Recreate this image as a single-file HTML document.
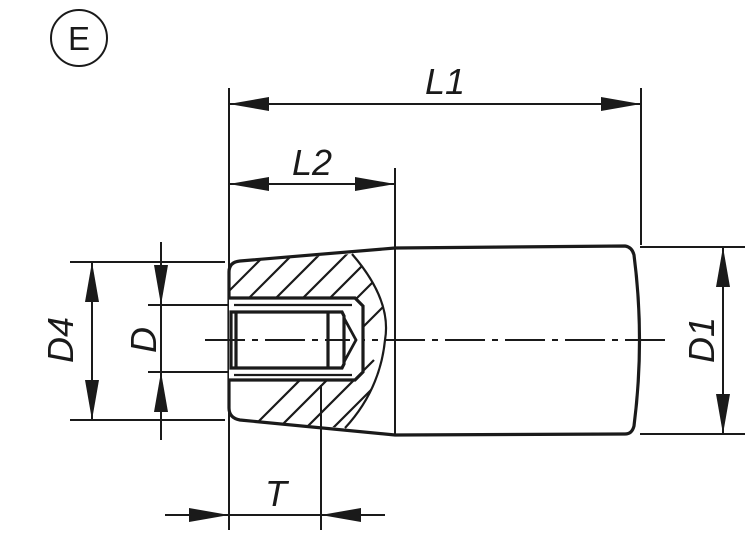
<!DOCTYPE html>
<html><head><style>body{margin:0;background:#fff}svg{display:block}</style></head><body>
<svg width="750" height="537" viewBox="0 0 750 537" xmlns="http://www.w3.org/2000/svg" font-family="Liberation Sans, sans-serif">
<defs>
<clipPath id="hc"><path d="M229,272 Q229,262 240,261 L352,254 Q392,300 385,340 Q380,390 345,428 L240,420 Q229,418 229,408 Z"/></clipPath>
</defs>
<g fill="none" stroke="#1a1a1a">
<circle cx="79" cy="38" r="28" stroke-width="2"/>
<g stroke-width="2">
<line x1="229" y1="88" x2="229" y2="530"/>
<line x1="641" y1="88" x2="641" y2="245"/>
<line x1="395" y1="168" x2="395" y2="248"/>
<line x1="321" y1="385" x2="321" y2="530"/>
<line x1="70" y1="262" x2="225" y2="262"/>
<line x1="70" y1="420" x2="225" y2="420"/>
<line x1="148" y1="305" x2="232" y2="305"/>
<line x1="148" y1="372" x2="232" y2="372"/>
<line x1="640" y1="247" x2="745" y2="247"/>
<line x1="640" y1="434" x2="745" y2="434"/>
<line x1="229" y1="104" x2="641" y2="104"/>
<line x1="229" y1="184" x2="395" y2="184"/>
<line x1="92" y1="262" x2="92" y2="420"/>
<line x1="161" y1="242" x2="161" y2="440"/>
<line x1="723" y1="247" x2="723" y2="434"/>
<line x1="165" y1="515" x2="385" y2="515"/>
</g>
<path d="M205,340 H665" stroke-width="2" stroke-dasharray="40,7,6,7"/>
<g clip-path="url(#hc)" stroke-width="2.2">
<path d="M200,320 L300,220 M227,320 L327,220 M254,320 L354,220 M281,320 L381,220 M308,320 L408,220 M335,320 L435,220 M350,340 L450,240 M200,480 L320,360 M227,480 L347,360 M254,480 L374,360 M281,480 L401,360 M308,480 L428,360 M335,470 L445,360"/>
</g>
<path d="M240,261 L395,248 L625,246 Q632,247 634,255 Q645,340 634,426 Q632,434 625,434 L395,435 L240,420 Q229,418 229,408 L229,272 Q229,262 240,261 Z" stroke-width="3.2"/>
<line x1="395" y1="248" x2="395" y2="435" stroke-width="2"/>
<path d="M352,254 Q392,300 385,340 Q380,390 345,428" stroke-width="2.2"/>
<path d="M229,298 H355 L363,306 V372 L355,380 H229" fill="#fff" stroke-width="3.2"/>
<path d="M231,312 H342 L344,316 V364 L342,368 H231 Z M236,312 V368 M328,312 V368" fill="#fff" stroke-width="3.2"/>
<path d="M344,318 L356,340 L344,362" stroke-width="2.8"/>
<path d="M234,305 H352 M234,375 H352" stroke-width="2.2"/>
<path d="M205,340 H350" stroke-width="2" stroke-dasharray="40,7,6,7"/>
</g>
<g fill="#1a1a1a">
<path d="M229,104 l40,-7 v14z"/><path d="M641,104 l-40,-7 v14z"/>
<path d="M229,184 l40,-7 v14z"/><path d="M395,184 l-40,-7 v14z"/>
<path d="M92,262 l-7,40 h14z"/><path d="M92,420 l-7,-40 h14z"/>
<path d="M161,305 l-7,-40 h14z"/><path d="M161,372 l-7,40 h14z"/>
<path d="M723,247 l-7,40 h14z"/><path d="M723,434 l-7,-40 h14z"/>
<path d="M229,515 l-40,-7 v14z"/><path d="M321,515 l40,-7 v14z"/>
</g>
<g fill="#1a1a1a" font-size="36" font-style="italic">
<text x="79" y="50" font-size="33" font-style="normal" text-anchor="middle">E</text>
<text x="445" y="94" text-anchor="middle">L1</text>
<text x="312" y="175" text-anchor="middle">L2</text>
<text x="276" y="506" text-anchor="middle">T</text>
<text transform="translate(73,340) rotate(-90)" text-anchor="middle">D4</text>
<text transform="translate(156,340) rotate(-90)" text-anchor="middle">D</text>
<text transform="translate(714,340) rotate(-90)" text-anchor="middle">D1</text>
</g>
</svg>
</body></html>
